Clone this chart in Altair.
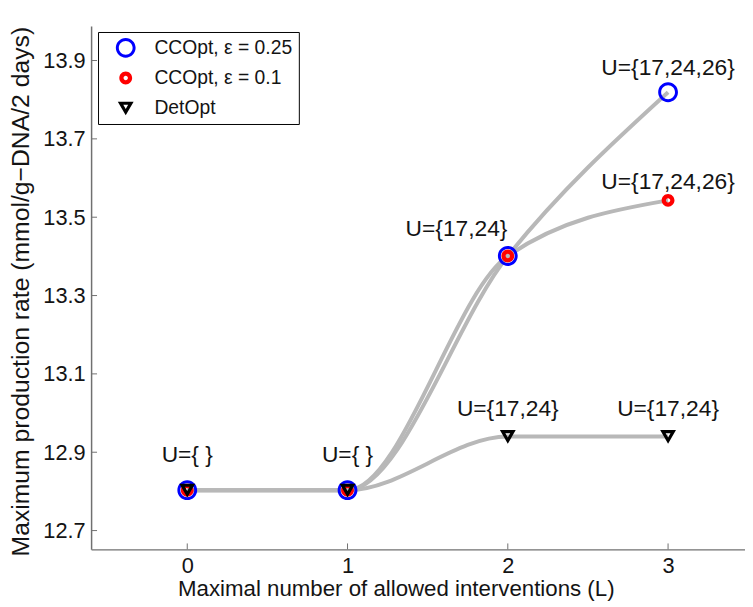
import altair as alt
import pandas as pd

# ---- data ----
L = [0, 1, 2, 3]
cc025 = [12.803, 12.803, 13.401, 13.819]
cc01 = [12.803, 12.803, 13.401, 13.543]
det = [12.803, 12.803, 12.940, 12.940]
series_names = ["CCOpt, ε = 0.25", "CCOpt, ε = 0.1", "DetOpt"]

label_text = ["U={ }", "U={ }", "U={17,24}", "U={17,24}", "U={17,24}",
              "U={17,24,26}", "U={17,24,26}"]
label_x = [0, 1, 1.68, 2, 3, 3, 3]
label_y = [12.892, 12.892, 13.47, 13.009, 13.009, 13.88, 13.589]

x_ticks = [0, 1, 2, 3]
y_ticks = [12.7, 12.9, 13.1, 13.3, 13.5, 13.7, 13.9]

# ---- tables ----
rows = []
for name, vals in zip(series_names, [cc025, cc01, det]):
    for xv, yv in zip(L, vals):
        rows.append({"L": xv, "rate": yv, "series": name})
df = pd.DataFrame(rows)
labels = pd.DataFrame({"text": label_text, "L": label_x, "rate": label_y})
xt = pd.DataFrame({"t": x_ticks})
yt = pd.DataFrame({"t": y_ticks})

FONT = "Liberation Sans"
AXC = "#707070"
TXT = "#141414"

# marker outlines as filled ring paths (unit square, scaled by symbol size)
RING_BIG = ("M -1 0 A 1 1 0 1 1 1 0 A 1 1 0 1 1 -1 0 Z "
            "M -0.7 0 A 0.7 0.7 0 1 0 0.7 0 A 0.7 0.7 0 1 0 -0.7 0 Z")
RING_SMALL = ("M -0.65 0 A 0.65 0.65 0 1 1 0.65 0 A 0.65 0.65 0 1 1 -0.65 0 Z "
              "M -0.22 0 A 0.22 0.22 0 1 0 0.22 0 A 0.22 0.22 0 1 0 -0.22 0 Z")
TRI_OPEN = ("M -0.8 -0.66 L 0.8 -0.66 L 0 0.726 Z "
            "M -0.246 -0.34 L 0 0.086 L 0.246 -0.34 Z")

xscale = alt.Scale(domain=[-0.6, 3.48], nice=False, zero=False)
yscale = alt.Scale(domain=[12.652, 13.988], nice=False, zero=False)

xaxis = alt.Axis(values=x_ticks, format="d", tickSize=0, labelPadding=6, grid=False,
                 labelFontSize=22,
                 title="Maximal number of allowed interventions (L)",
                 titleFontSize=22.5, titlePadding=2, titleX=308)
yaxis = alt.Axis(values=y_ticks, format=".1f", tickSize=0, labelPadding=6, grid=False,
                 labelFontSize=22,
                 title="Maximum production rate (mmol/g\u2212DNA/2 days)",
                 titleFontSize=25, titlePadding=9, titleY=268)

base = alt.Chart(df)

lines = base.mark_line(interpolate="monotone", color="#b8b8b8", strokeWidth=4).encode(
    x=alt.X("L:Q", scale=xscale, axis=xaxis),
    y=alt.Y("rate:Q", scale=yscale, axis=yaxis),
    detail="series:N",
)

leg = alt.Legend(title=None, orient="none", legendX=7, legendY=6,
                 strokeColor="black", fillColor="white", padding=6,
                 symbolOffset=12, labelOffset=19, rowPadding=10.5,
                 symbolSize=400, symbolStrokeWidth=0,
                 labelFont=FONT, labelFontSize=19.5, labelColor=TXT,
                 labelExpr="datum.label + '\u2002'",
                 cornerRadius=0)

points = base.mark_point(filled=True, opacity=1, size=400, strokeWidth=0).encode(
    x=alt.X("L:Q", scale=xscale),
    y=alt.Y("rate:Q", scale=yscale),
    color=alt.Color("series:N", scale=alt.Scale(domain=series_names,
                    range=["#0000ff", "#ff0000", "#000000"]), legend=leg),
    shape=alt.Shape("series:N", scale=alt.Scale(domain=series_names,
                    range=[RING_BIG, RING_SMALL, TRI_OPEN]), legend=leg),
)

text = alt.Chart(labels).mark_text(font=FONT, fontSize=23, color=TXT,
                                   baseline="middle", align="center").encode(
    x=alt.X("L:Q", scale=xscale),
    y=alt.Y("rate:Q", scale=yscale),
    text="text:N",
)

xtick_rules = alt.Chart(xt).mark_rule(color=AXC, strokeWidth=1).encode(
    x=alt.X("t:Q", scale=xscale),
    y=alt.value(529), y2=alt.value(523),
)
ytick_rules = alt.Chart(yt).mark_rule(color=AXC, strokeWidth=1).encode(
    y=alt.Y("t:Q", scale=yscale),
    x=alt.value(0), x2=alt.value(6),
)

chart = alt.layer(lines, xtick_rules, ytick_rules, points, text).properties(
    width=661, height=529,
    autosize=alt.AutoSizeParams(type="none"),
    padding={"left": 84, "top": 15, "right": 0, "bottom": 55},
).configure_view(stroke=None).configure_axis(
    labelFont=FONT, titleFont=FONT,
    titleFontWeight="normal", labelColor=TXT, titleColor=TXT,
    domainColor=AXC, domainWidth=1.5,
)

chart.save("out.html", embed_options={"renderer": "svg", "actions": False})
